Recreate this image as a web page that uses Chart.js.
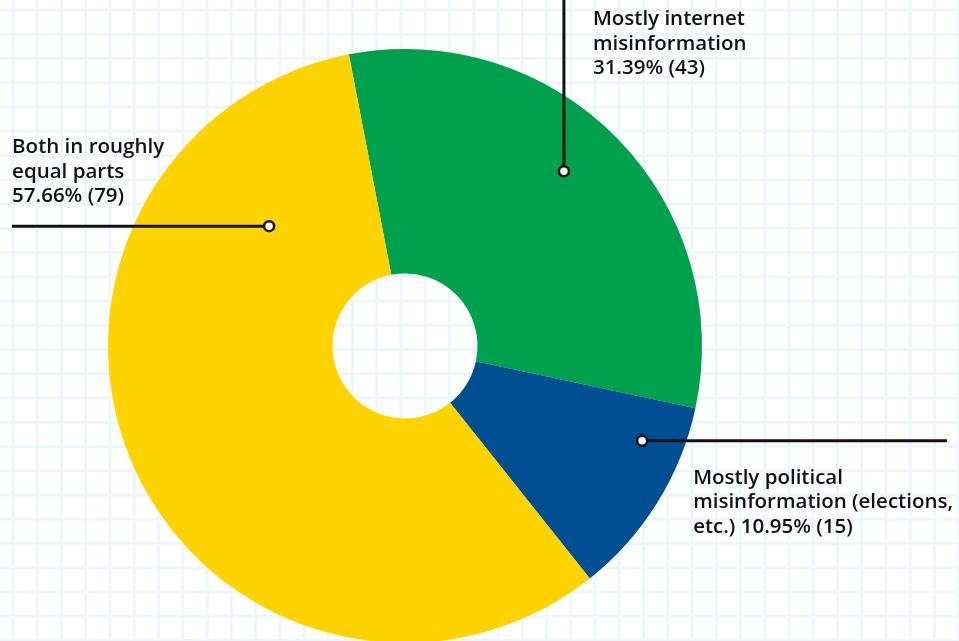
<!DOCTYPE html>
<html>
<head>
<meta charset="utf-8">
<script src="https://cdn.jsdelivr.net/npm/chart.js@4"></script>
<style>
  html, body { margin: 0; padding: 0; background: #fff; overflow: hidden; }
  #wrap { width: 959px; height: 641px; position: relative; }
</style>
</head>
<body>
<div id="wrap"><canvas id="pieChart"></canvas></div>
<script>
// Data
const categories = ['Mostly internet misinformation', 'Mostly political misinformation (elections, etc.)', 'Both in roughly equal parts'];
const counts = [43, 15, 79];
const colors = ['#00a14d', '#004f92', '#ffd300'];
// label text lines (the percentage line is appended from the data)
const labelLines = [
    ['Mostly internet', 'misinformation'],
    ['Mostly political', 'misinformation (elections,'],
    ['Both in roughly', 'equal parts']
];

const total = counts.reduce((a, b) => a + b, 0);

// leader line / label placement per slice
const labelStyle = [
    { angle: 42.3, r: 0.795, dir: 'up', textDx: 29, textDy: -152 },
    { angle: 111.8, r: 0.86, dir: 'right', textDx: 51, textDy: 37 },
    { angle: -48.6, r: 0.61, dir: 'left', textDx: -257, textDy: -79 }
];

// Grid paper background
const gridBackground = {
    id: 'gridBackground',
    beforeDraw(chart) {
        const ctx = chart.ctx;
        const w = chart.width, h = chart.height;
        ctx.save();
        ctx.fillStyle = '#ffffff';
        ctx.fillRect(0, 0, w, h);
        ctx.strokeStyle = '#eef6fd';
        ctx.lineWidth = 3;
        const step = 24.25;
        ctx.beginPath();
        for (let x = 13; x < w; x += step) {
            ctx.moveTo(x, 0); ctx.lineTo(x, h);
        }
        for (let y = 10; y < h; y += step) {
            ctx.moveTo(0, y); ctx.lineTo(w, y);
        }
        ctx.stroke();
        ctx.restore();
    }
};

// Callout labels with leader lines
const callouts = {
    id: 'callouts',
    afterDraw(chart) {
        const ctx = chart.ctx;
        const meta = chart.getDatasetMeta(0);
        ctx.save();
        meta.data.forEach((arc, i) => {
            const s = labelStyle[i];
            const a = (s.angle - 90) * Math.PI / 180;
            const px = arc.x + Math.cos(a) * arc.outerRadius * s.r;
            const py = arc.y + Math.sin(a) * arc.outerRadius * s.r;

            ctx.strokeStyle = '#111';
            ctx.lineWidth = 3;
            ctx.beginPath();
            ctx.moveTo(px, py);
            if (s.dir === 'up') ctx.lineTo(px, 0);
            else if (s.dir === 'left') ctx.lineTo(12, py);
            else ctx.lineTo(chart.width - 12, py);
            ctx.stroke();

            ctx.beginPath();
            ctx.arc(px, py, 5, 0, Math.PI * 2);
            ctx.fillStyle = '#fff';
            ctx.fill();
            ctx.lineWidth = 2.5;
            ctx.stroke();

            const pct = (counts[i] / total * 100).toFixed(2) + '% (' + counts[i] + ')';
            const lines = labelLines[i].slice();
            if (i === 1) lines.push('etc.) ' + pct);
            else lines.push(pct);

            ctx.fillStyle = '#111';
            ctx.font = '600 20.5px "Open Sans", "Noto Sans", sans-serif';
            ctx.textAlign = 'left';
            ctx.textBaseline = 'middle';
            lines.forEach((t, j) => {
                ctx.fillText(t, px + s.textDx, py + s.textDy + j * 24.5);
            });
        });
        ctx.restore();
    }
};

const ctx = document.getElementById('pieChart').getContext('2d');
const pieChart = new Chart(ctx, {
    type: 'doughnut',
    data: {
        labels: categories,
        datasets: [{
            data: counts,
            backgroundColor: colors,
            borderWidth: 0,
            radius: 297,
            cutout: 72
        }]
    },
    options: {
        responsive: true,
        maintainAspectRatio: false,
        animation: false,
        rotation: -10.9,
        layout: {
            padding: { left: 108, right: 257, top: 51, bottom: 0 }
        },
        plugins: {
            legend: { display: false },
            tooltip: { enabled: false }
        }
    },
    plugins: [gridBackground, callouts]
});
</script>
</body>
</html>
